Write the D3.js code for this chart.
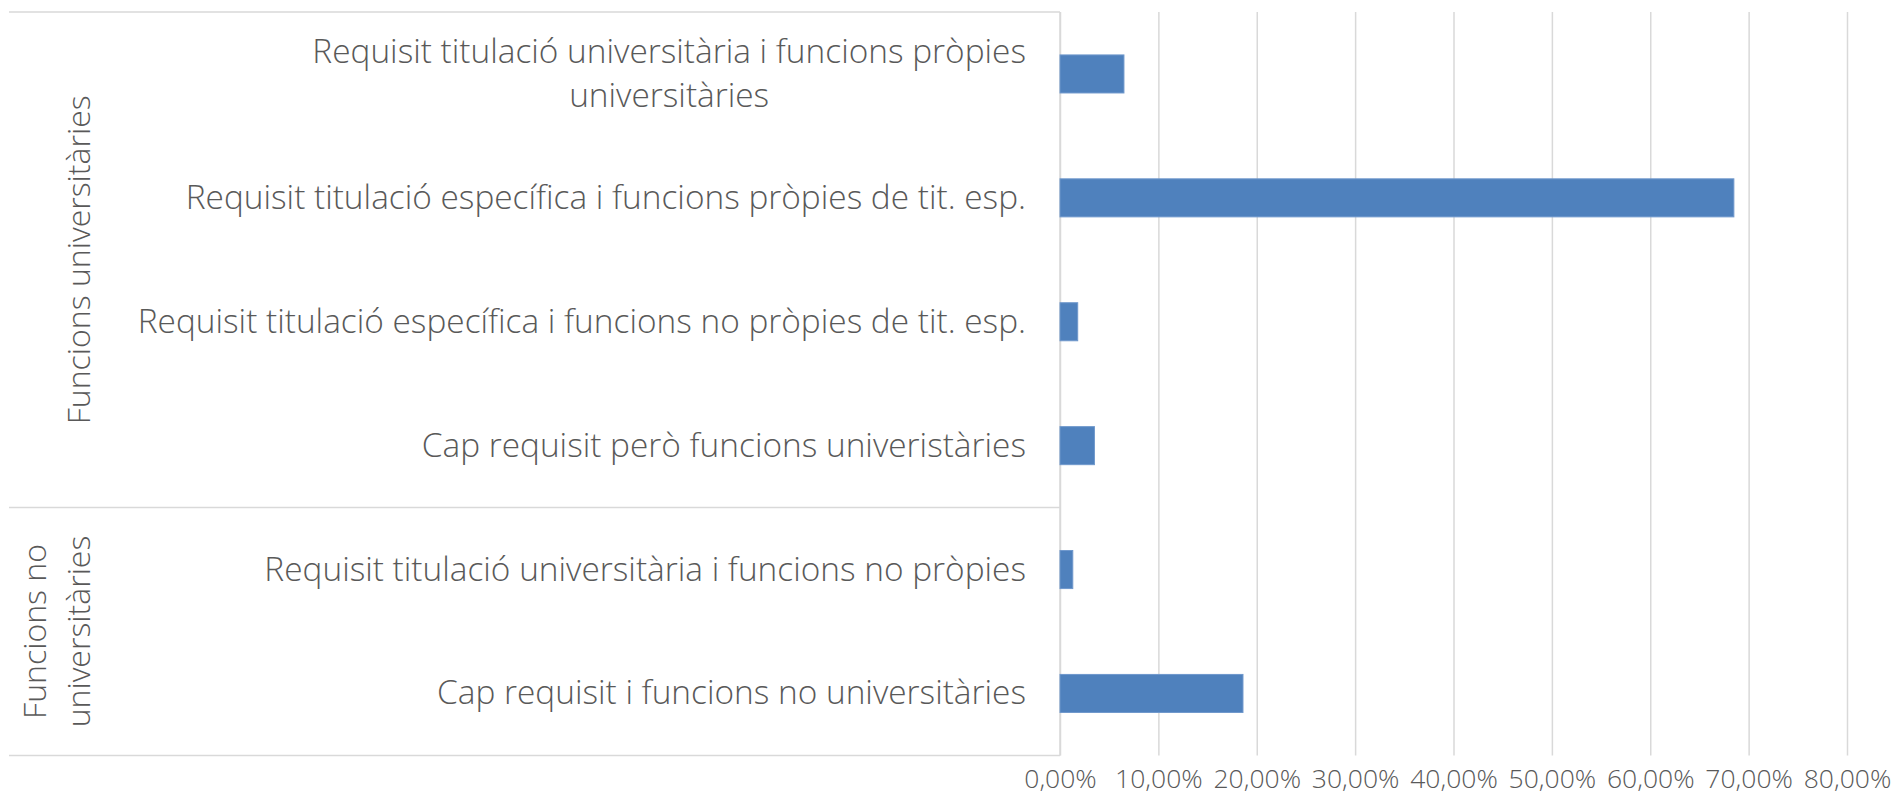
<!DOCTYPE html>
<html>
<head>
<meta charset="utf-8">
<script src="https://cdn.jsdelivr.net/npm/d3@7"></script>
<style>
  html, body { margin: 0; padding: 0; background: #ffffff; }
  svg { display: block; }
  text { font-family: "Open Sans", "Noto Sans", "DejaVu Sans", sans-serif; font-weight: 300; fill: #595959; }
</style>
</head>
<body>
<svg id="chart" width="1903" height="804"></svg>
<script>
// ---- data ----
const categories = [
  "Requisit titulació universitària i funcions pròpies universitàries",
  "Requisit titulació específica i funcions pròpies de tit. esp.",
  "Requisit titulació específica i funcions no pròpies de tit. esp.",
  "Cap requisit però funcions univeristàries",
  "Requisit titulació universitària i funcions no pròpies",
  "Cap requisit i funcions no universitàries"
];
const groups = ["Funcions universitàries", "Funcions no universitàries"];
const categoryGroup = [0, 0, 0, 0, 1, 1];
const values = [0.065, 0.685, 0.018, 0.035, 0.013, 0.186];
const xTicks = [0, 0.1, 0.2, 0.3, 0.4, 0.5, 0.6, 0.7, 0.8];

// ---- layout ----
const svg = d3.select("#chart");
const plotLeft = 1060, plotRight = 1847, plotTop = 12, plotBottom = 755.4;
const boxLeft = 9;
const gridColor = "#d9d9d9";

const x = d3.scaleLinear().domain([0, 0.8]).range([plotLeft, plotRight]);
const y = d3.scaleBand().domain(categories).range([plotTop, plotBottom])
  .paddingInner(0.693).paddingOuter(0.3465);
const slot = d3.scaleBand().domain(categories).range([plotTop, plotBottom]);

const locale = d3.formatLocale({decimal: ",", thousands: ".", grouping: [3], currency: ["", "€"]});
const fmt = locale.format(".2%");

// gridlines + tick labels via axis
const xAxis = d3.axisBottom(x).tickValues(xTicks).tickFormat(fmt).tickSize(-(plotBottom - plotTop)).tickPadding(0);
const gx = svg.append("g").attr("transform", `translate(0,${plotBottom})`).call(xAxis);
gx.select(".domain").remove();
gx.selectAll(".tick line").attr("stroke", gridColor).attr("stroke-width", 1.5);
gx.selectAll(".tick text")
  .attr("y", 33).attr("dy", null)
  .style("font-size", "26.5px").style("font-family", '"Open Sans", sans-serif').style("font-weight", 300)
  .attr("fill", "#595959");

// category axis box lines (horizontal separators)
const groupBounds = [];
groups.forEach((g, gi) => {
  const cats = categories.filter((c, i) => categoryGroup[i] === gi);
  const top = slot(cats[0]);
  const bottom = slot(cats[cats.length - 1]) + slot.bandwidth();
  groupBounds.push({name: g, top, bottom});
});
const hLines = [plotTop].concat(groupBounds.map(b => b.bottom));
svg.append("g").selectAll("line").data(hLines).join("line")
  .attr("x1", boxLeft).attr("x2", plotLeft)
  .attr("y1", d => d).attr("y2", d => d)
  .attr("stroke", gridColor).attr("stroke-width", 1.5);

// axis line
svg.append("line").attr("x1", plotLeft).attr("x2", plotLeft)
  .attr("y1", plotTop).attr("y2", plotBottom)
  .attr("stroke", gridColor).attr("stroke-width", 1.5);

// bars
svg.append("g").selectAll("rect").data(values).join("rect")
  .attr("x", x(0))
  .attr("y", (d, i) => y(categories[i]))
  .attr("width", d => x(d) - x(0))
  .attr("height", y.bandwidth())
  .attr("fill", "#4f81bd")
  .attr("stroke", "#6f98cc").attr("stroke-width", 1);

// wrapping helper
function wrapWords(text, maxW, sizePx) {
  const tmp = svg.append("text").style("font-size", sizePx + "px");
  const words = text.split(" ");
  const lines = [];
  let cur = [];
  words.forEach(w => {
    const test = cur.concat([w]).join(" ");
    tmp.text(test);
    if (tmp.node().getComputedTextLength() > maxW && cur.length) {
      lines.push(cur.join(" "));
      cur = [w];
    } else cur.push(w);
  });
  if (cur.length) lines.push(cur.join(" "));
  const widths = lines.map(l => { tmp.text(l); return tmp.node().getComputedTextLength(); });
  tmp.remove();
  return {lines, widths};
}

// category labels
const labelRight = 1026, labelSize = 33.4, lineGap = 43.5;
const gl = svg.append("g");
categories.forEach((c, i) => {
  const {lines, widths} = wrapWords(c, 905, labelSize);
  const cy = y(c) + y.bandwidth() / 2;
  const maxW = d3.max(widths);
  const cx = labelRight - maxW / 2;
  lines.forEach((l, li) => {
    gl.append("text")
      .attr("x", lines.length > 1 ? cx : labelRight)
      .attr("y", cy + 11 + (li - (lines.length - 1) / 2) * lineGap)
      .attr("text-anchor", lines.length > 1 ? "middle" : "end")
      .style("font-size", labelSize + "px")
      .text(l);
  });
});

// group labels (rotated)
const groupSize = 32;
const gg = svg.append("g");
groupBounds.forEach(b => {
  const {lines} = wrapWords(b.name, (b.bottom - b.top) * 0.85, groupSize);
  const cy = (b.top + b.bottom) / 2;
  lines.forEach((l, li) => {
    const bx = 90 - (lines.length - 1 - li) * 44;
    gg.append("text")
      .attr("transform", `translate(${bx},${cy}) rotate(-90)`)
      .attr("text-anchor", "middle")
      .style("font-size", groupSize + "px")
      .text(l);
  });
});
</script>
</body>
</html>
